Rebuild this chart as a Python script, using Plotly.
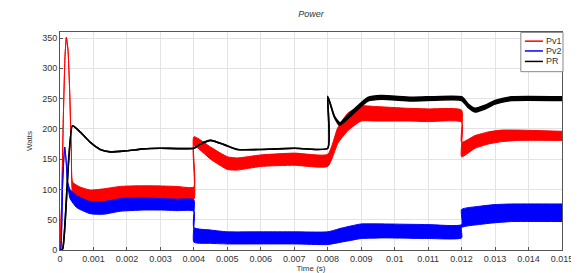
import plotly.graph_objects as go

# Pv1 (red) envelope
t_pv1 = [0, 0.00005, 0.0001, 0.00015, 0.00019, 0.00024, 0.00029, 0.00034, 0.00038, 0.0006, 0.0009,
         0.0013, 0.0018, 0.0023, 0.0028, 0.0035, 0.004, 0.004, 0.0045, 0.005, 0.0053, 0.006, 0.007,
         0.008, 0.0083, 0.0086, 0.009, 0.0094, 0.0104, 0.011, 0.012, 0.012, 0.0124, 0.0128, 0.0132,
         0.0137, 0.015]
pv1_upper = [0, 80, 220, 320, 351, 330, 260, 160, 112, 104, 99, 101, 105, 106, 106, 105, 104, 187,
             170, 154, 152, 157, 160, 158, 202, 226, 238, 237, 234, 233, 231, 178, 189, 195, 198, 198, 196]
pv1_lower = [0, 80, 220, 320, 351, 330, 260, 160, 95, 85, 80, 81, 85, 86, 86, 85, 84, 172,
             150, 133, 132, 138, 140, 138, 176, 197, 213, 213, 213, 212, 211, 154, 168, 175, 179, 181, 181]

# Pv2 (blue) envelope
t_pv2 = [0, 0.00003, 0.00008, 0.00014, 0.00018, 0.00022, 0.0003, 0.0005, 0.0009, 0.0013, 0.0018,
         0.0025, 0.003, 0.0035, 0.004, 0.004, 0.0045, 0.005, 0.006, 0.007, 0.008, 0.0084, 0.0088,
         0.009, 0.0097, 0.011, 0.012, 0.012, 0.0125, 0.013, 0.0135, 0.015]
pv2_upper = [0, 5, 110, 170, 150, 115, 100, 90, 80, 80, 85, 86, 85, 84, 83, 37, 33, 30, 30, 30, 30,
             36, 41, 43, 43, 42, 42, 67, 72, 75, 76, 76]
pv2_lower = [0, 5, 110, 170, 150, 115, 85, 70, 60, 59, 64, 66, 66, 65, 64, 13, 11, 10, 10, 10, 9,
             13, 17, 19, 20, 19, 20, 37, 42, 45, 47, 47]

# PR (black) envelope
t_pr = [0, 0.00008, 0.00037, 0.0006, 0.0009, 0.0012, 0.0015, 0.002, 0.0025, 0.003, 0.004, 0.0042,
        0.0045, 0.0049, 0.0053, 0.006, 0.007, 0.008, 0.008, 0.0082, 0.00836, 0.0087, 0.0092, 0.0096,
        0.0105, 0.012, 0.0122, 0.0124, 0.0127, 0.013, 0.0135, 0.015]
pr_upper = [0, 2, 205, 195, 178, 166, 162, 164, 167, 168, 168, 175, 181, 174, 166, 166, 168, 168,
            254, 221, 210, 228, 252, 255, 252, 253, 241, 234, 239, 247, 253, 253]
pr_lower = [0, 2, 205, 195, 178, 166, 162, 164, 167, 168, 168, 175, 181, 174, 166, 166, 168, 168,
            253, 219, 206, 222, 246, 249, 246, 247, 235, 228, 233, 241, 247, 247]

x_ticks = [0, 0.001, 0.002, 0.003, 0.004, 0.005, 0.006, 0.007, 0.008, 0.009, 0.01, 0.011, 0.012,
           0.013, 0.014, 0.015]
x_ticklabels = ["0", "0.001", "0.002", "0.003", "0.004", "0.005", "0.006", "0.007", "0.008",
                "0.009", "0.01", "0.011", "0.012", "0.013", "0.014", "0.015"]
y_ticks = [0, 50, 100, 150, 200, 250, 300, 350]
legend_names = ["Pv1", "Pv2", "PR"]
colors = ["#ff0000", "#0000ff", "#000000"]

series = [
    (legend_names[0], colors[0], t_pv1, pv1_lower, pv1_upper, 1),
    (legend_names[1], colors[1], t_pv2, pv2_lower, pv2_upper, 1),
    (legend_names[2], colors[2], t_pr, pr_lower, pr_upper, 1.6),
]

fig = go.Figure()
for name, color, t, lo, hi, w in series:
    fig.add_trace(go.Scatter(x=t, y=lo, mode="lines",
                             line=dict(color=color, width=w, shape="spline", smoothing=0.5),
                             showlegend=False, hoverinfo="skip", legendgroup=name))
    fig.add_trace(go.Scatter(x=t, y=hi, mode="lines",
                             line=dict(color=color, width=w, shape="spline", smoothing=0.5),
                             fill="tonexty", fillcolor=color, showlegend=False, name=name,
                             legendgroup=name))

# compact legend box (drawn in paper coordinates, like MATLAB's legend)
fig.add_shape(type="rect", xref="paper", yref="paper", x0=0.918, x1=1.002, y0=0.818, y1=0.998,
              line=dict(color="#888", width=1), fillcolor="white", layer="above")
row_y = [0.958, 0.913, 0.865]
for name, color, yy in zip(legend_names, colors, row_y):
    fig.add_shape(type="line", xref="paper", yref="paper", x0=0.926, x1=0.962, y0=yy, y1=yy,
                  line=dict(color=color, width=1.5), layer="above")
    fig.add_annotation(xref="paper", yref="paper", x=0.964, y=yy, xanchor="left", yanchor="middle",
                       text=name, showarrow=False,
                       font=dict(size=9, color="#333", family="Liberation Sans"))

axis_common = dict(showline=True, mirror=True, linecolor="#555", linewidth=1,
                   showgrid=True, gridcolor="#e3e3e3", gridwidth=1, zeroline=False,
                   ticks="inside", ticklen=3, tickcolor="#555",
                   tickfont=dict(size=9, color="#333", family="Liberation Sans"))

fig.update_layout(
    width=579, height=273,
    margin=dict(l=52, r=25, t=24, b=23),
    paper_bgcolor="white", plot_bgcolor="white",
    showlegend=False,
    title=dict(text="<i>Power</i>", x=303 / 579, xanchor="center", y=0.99, yanchor="top",
               font=dict(size=9, color="#333", family="Liberation Sans")),
    xaxis=dict(range=[0, 0.015], tickvals=x_ticks, ticktext=x_ticklabels,
               title=dict(text="Time (s)", font=dict(size=8, color="#333", family="Liberation Sans"),
                          standoff=0), **axis_common),
    yaxis=dict(range=[0, 360], tickvals=y_ticks,
               title=dict(text="Watts", font=dict(size=8, color="#333", family="Liberation Sans"),
                          standoff=8), **axis_common),
)

fig.write_html("out.html")
